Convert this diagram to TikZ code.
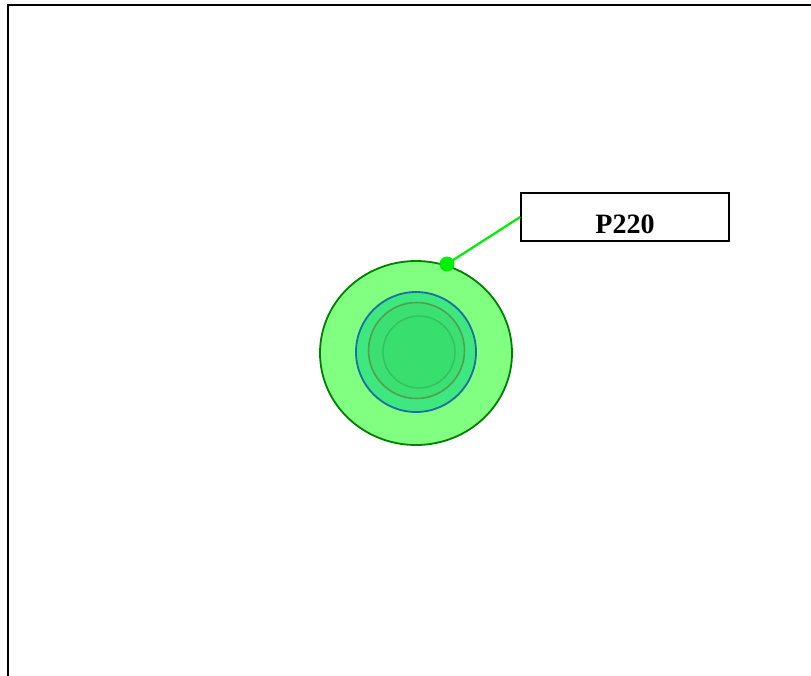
\documentclass[tikz,border=0pt]{standalone}
\usepackage{fontspec}
\setmainfont{Liberation Serif}
\definecolor{outerfill}{HTML}{80FF80}
\definecolor{outerdraw}{HTML}{008000}
\definecolor{ringfill}{HTML}{3EE87E}
\definecolor{ringdraw}{HTML}{1A70A0}
\definecolor{midfill}{HTML}{3CE072}
\definecolor{middraw}{HTML}{50A050}
\definecolor{innerfill}{HTML}{38DE6E}
\definecolor{innerdraw}{HTML}{30C060}
\definecolor{leadgreen}{HTML}{00EE00}
\tikzset{
  labelbox/.style={draw=black, line width=1.5pt, fill=white, minimum width=208pt, minimum height=48pt, inner sep=0pt, text height=32pt, text depth=0pt, font=\fontsize{28}{30}\selectfont\bfseries},
  leader/.style={draw=leadgreen, line width=2.2pt},
  dotmark/.style={circle, fill=leadgreen, minimum size=15pt, inner sep=0pt}
}
\begin{document}
\begin{tikzpicture}[x=1pt,y=-1pt]
\useasboundingbox (0,0) rectangle (811,675);
\fill[white] (0,0) rectangle (811,675);
\draw[line width=1.6pt] (8,680) -- (8,5) -- (815,5);
% rings
\filldraw[fill=outerfill, draw=outerdraw, line width=1.8pt] (416,353) ellipse [x radius=96, y radius=92];
\filldraw[fill=ringfill, draw=ringdraw, line width=1.8pt] (416,352) circle [radius=60];
\filldraw[fill=midfill, draw=middraw, line width=1.6pt] (416.5,350.5) circle [radius=48];
\filldraw[fill=innerfill, draw=innerdraw, line width=1.3pt] (419,352) circle [radius=36];
% label
\node[labelbox] (lbl) at (625,217) {P220};
\node[dotmark] (dot) at (447,264) {};
\draw[leader] (dot.center) -- (lbl.west);
\end{tikzpicture}
\end{document}
